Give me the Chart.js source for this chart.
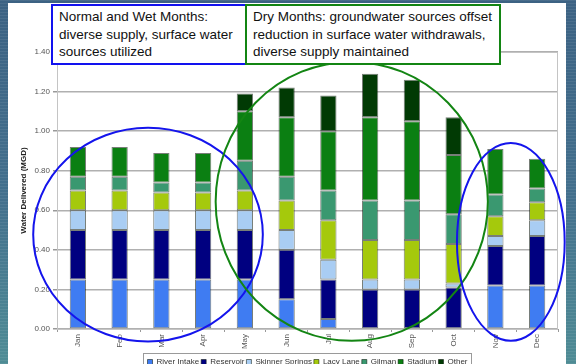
<!DOCTYPE html>
<html>
<head>
<meta charset="utf-8">
<script src="https://cdn.jsdelivr.net/npm/chart.js@4.4.1/dist/chart.umd.min.js"></script>
<style>
  html, body { margin: 0; padding: 0; width: 576px; height: 364px; overflow: hidden; }
  body {
    position: relative;
    background:
      repeating-linear-gradient(180deg, rgba(255,255,255,0.07) 0px, rgba(255,255,255,0.07) 1px, rgba(0,0,0,0) 1px, rgba(0,0,0,0) 3px),
      linear-gradient(180deg, #3c6283 0%, #43708d 55%, #4f8c95 100%);
    font-family: "Liberation Sans", Arial, sans-serif;
  }
  #panel { position: absolute; left: 8px; top: 3px; width: 558px; height: 375px; background: #fff; }
  #chart { display: block; }
  .note {
    position: absolute; top: 4px; height: 61px; box-sizing: border-box;
    background: #fff; padding: 2px 6px; font-size: 13.5px; line-height: 17.5px; color: #111;
  }
  #wet { left: 51px; width: 196px; border: 2px solid #1212ee; }
  #dry { left: 245px; width: 256px; border: 2px solid #138513; }
</style>
</head>
<body>
<div id="panel"><canvas id="chart" width="558" height="375"></canvas></div>
<div class="note" id="wet">Normal and Wet Months:<br>diverse supply, surface water<br>sources utilized</div>
<div class="note" id="dry">Dry Months: groundwater sources offset<br>reduction in surface water withdrawals,<br>diverse supply maintained</div>

<script>
window.onload = function () { drawChart() }

// monthly deliveries by source, MGD
var months = ['Jan', 'Feb', 'Mar', 'Apr', 'May', 'Jun', 'Jul', 'Aug', 'Sep', 'Oct', 'Nov', 'Dec'];
var riverIntake    = [0.25, 0.25, 0.25, 0.25, 0.25, 0.15, 0.05, 0.00, 0.00, 0.00, 0.22, 0.22];
var reservoir      = [0.25, 0.25, 0.25, 0.25, 0.25, 0.25, 0.20, 0.20, 0.20, 0.21, 0.20, 0.25];
var skinnerSprings = [0.10, 0.10, 0.10, 0.10, 0.10, 0.10, 0.10, 0.05, 0.05, 0.02, 0.05, 0.08];
var lacyLane       = [0.10, 0.10, 0.09, 0.09, 0.10, 0.15, 0.20, 0.20, 0.20, 0.20, 0.10, 0.09];
var gilman         = [0.07, 0.07, 0.05, 0.05, 0.15, 0.12, 0.15, 0.20, 0.20, 0.15, 0.11, 0.07];
var stadium        = [0.15, 0.15, 0.15, 0.15, 0.25, 0.30, 0.30, 0.42, 0.40, 0.30, 0.23, 0.15];
var other          = [0.00, 0.00, 0.00, 0.00, 0.09, 0.15, 0.18, 0.22, 0.21, 0.19, 0.00, 0.00];

var sourceNames = ['River Intake', 'Reservoir', 'Skinner Springs', 'Lacy Lane', 'Gilman', 'Stadium', 'Other'];
var yTicks = [0, 0.2, 0.4, 0.6, 0.8, 1.0, 1.2, 1.4];

var sourceColors = ['#3f7cf2', '#000080', '#a9cdf3', '#a5c90c', '#3a9870', '#0b7f12', '#013a04'];

// rings around the wet and dry months, in axis units (category index / MGD)
var rings = [
    { x: 1.68, y: 0.477, rx: 2.75, ry: 0.54, color: '#1414ec' },
    { x: 6.56, y: 0.645, rx: 3.26, ry: 0.705, color: '#138513' },
    { x: 10.37, y: 0.44, rx: 1.29, ry: 0.50, color: '#1414ec' }
];

var ringPlugin = {
    id: 'rings',
    afterDatasetsDraw: function (chart) {
        var ctx = chart.ctx, xs = chart.scales.x, ys = chart.scales.y;
        ctx.save();
        ctx.lineWidth = 2;
        rings.forEach(function (r) {
            var cx = xs.getPixelForValue(r.x);
            var cy = ys.getPixelForValue(r.y);
            var rx = Math.abs(xs.getPixelForValue(r.x + r.rx) - cx);
            var ry = Math.abs(ys.getPixelForValue(r.y + r.ry) - cy);
            ctx.strokeStyle = r.color;
            ctx.beginPath();
            ctx.ellipse(cx, cy, rx, ry, 0, 0, Math.PI * 2);
            ctx.stroke();
        });
        ctx.restore();
    }
};

// thin frame round the plot and round the legend
var framePlugin = {
    id: 'frames',
    beforeDatasetsDraw: function (chart) {
        var a = chart.chartArea, ctx = chart.ctx;
        ctx.save();
        ctx.strokeStyle = '#c4c4c4';
        ctx.lineWidth = 1;
        ctx.strokeRect(a.left + 0.5, a.top + 0.5, a.right - a.left - 1, a.bottom - a.top);
        ctx.restore();
    },
    afterDraw: function (chart) {
        var boxes = chart.legend.legendHitBoxes;
        if (!boxes || !boxes.length) return;
        var l = boxes[0].left, r = boxes[boxes.length - 1].left + boxes[boxes.length - 1].width;
        var t = boxes[0].top;
        var ctx = chart.ctx;
        ctx.save();
        ctx.strokeStyle = '#9a9a9a';
        ctx.lineWidth = 1;
        ctx.strokeRect(Math.round(l - 5) + 0.5, Math.round(t - 5) + 0.5, Math.round(r - l + 8), 24);
        ctx.restore();
    }
};

function drawChart() {
    var series = [riverIntake, reservoir, skinnerSprings, lacyLane, gilman, stadium, other];
    var datasets = [];
    for (var i = 0; i < series.length; i++) {
        datasets.push({
            label: sourceNames[i],
            data: series[i],
            backgroundColor: sourceColors[i],
            borderColor: 'rgba(10,20,10,0.55)',
            borderWidth: 1,
            borderSkipped: false,
            categoryPercentage: 1.0,
            barPercentage: 0.39
        });
    }

    var tickFont = { family: '"Liberation Sans", Arial, sans-serif', size: 8 };

    new Chart(document.getElementById('chart'), {
        type: 'bar',
        data: { labels: months, datasets: datasets },
        options: {
            responsive: false,
            animation: false,
            layout: { padding: { left: 11, right: 8, top: 49, bottom: 2 } },
            plugins: {
                tooltip: { enabled: false },
                legend: {
                    position: 'bottom',
                    fullSize: false,
                    labels: {
                        font: tickFont,
                        color: '#333',
                        boxWidth: 5,
                        boxHeight: 5,
                        padding: 2,
                        useBorderRadius: false
                    }
                }
            },
            scales: {
                x: {
                    stacked: true,
                    grid: { display: true, drawOnChartArea: false, color: '#999', tickLength: 3 },
                    border: { display: true, color: '#999' },
                    ticks: { font: tickFont, color: '#555', minRotation: 90, maxRotation: 90, autoSkip: false, padding: 2 },
                    afterFit: function (scale) { scale.height = 27; }
                },
                y: {
                    stacked: true,
                    min: 0,
                    max: 1.4,
                    afterBuildTicks: function (scale) {
                        scale.ticks = yTicks.map(function (v) { return { value: v }; });
                    },
                    grid: { color: '#b0b0b0', lineWidth: 1.5, tickLength: 4, tickColor: '#999' },
                    border: { display: true, color: '#999' },
                    ticks: {
                        font: tickFont,
                        color: '#555',
                        padding: 3,
                        callback: function (v) { return Number(v).toFixed(2); }
                    },
                    title: {
                        display: true,
                        text: 'Water Delivered (MGD)',
                        color: '#222',
                        padding: 0,
                        font: { family: '"Liberation Sans", Arial, sans-serif', size: 8, weight: 'bold' }
                    },
                    afterFit: function (scale) { scale.width = 38; }
                }
            }
        },
        plugins: [ringPlugin, framePlugin]
    });
}
</script>
</body>
</html>
